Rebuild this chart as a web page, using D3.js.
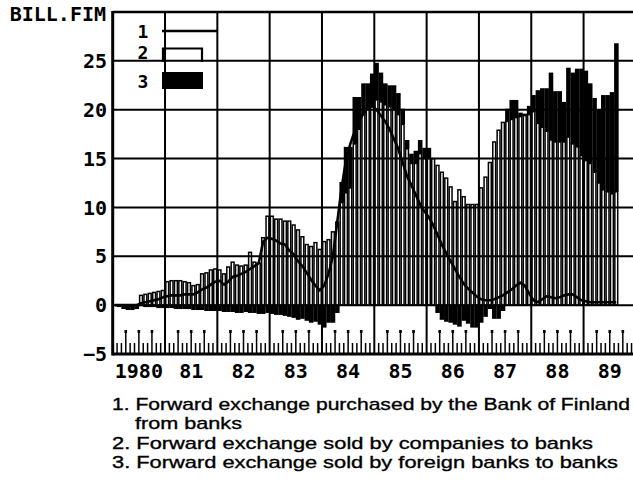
<!DOCTYPE html>
<html><head><meta charset="utf-8">
<script src="https://cdn.jsdelivr.net/npm/d3@7"></script>
<style>body{margin:0;background:#fff}svg{display:block}</style>
</head><body><svg id="c" width="633" height="499"></svg>
<script>
// Monthly data, Jan 1980 .. Aug 1989 (bill. FIM)
const yearLabels = ["1980","81","82","83","84","85","86","87","88","89"];
const yTicks = [-5,0,5,10,15,20,25];
// 1. Forward exchange purchased by the Bank of Finland from banks (line)
const bankOfFinland = [
 0,0,0,0,0,0, 0.2,0.3,0.4,0.5,0.6,0.8,
 0.9,1.0,1.0,1.0,1.1,1.1, 1.1,1.3,1.6,1.8,2.1,2.4,
 2.5,2.1,2.4,2.9,3.0,3.2, 3.4,3.7,4.0,4.3,6.5,6.9,
 6.8,6.6,6.3,6.2,5.6,5.2, 4.5,4.0,3.3,2.6,2.0,1.5,
 2.0,3.2,5.0,8.5,12.0,14.8, 16.5,17.8,18.9,19.6,20.2,20.4,
 20.0,19.4,18.8,18.0,17.0,16.0, 14.6,13.2,12.3,11.3,10.3,9.6,
 9.0,8.2,7.2,6.2,5.3,4.5, 3.7,2.9,2.2,1.7,1.3,0.9,
 0.6,0.5,0.5,0.6,0.8,1.0, 1.3,1.6,2.0,2.3,2.0,1.2,
 0.5,0.3,0.6,0.9,0.8,0.7, 0.8,1.0,1.1,1.1,0.8,0.5,
 0.4,0.3,0.3,0.3,0.3,0.3, 0.3,0.3
];
// 2. Forward exchange sold by companies to banks (open bars)
const companies = [
 0,0,0,0,0,0, 1.0,1.1,1.2,1.3,1.4,1.5,
 2.4,2.5,2.5,2.5,2.4,2.3, 2.0,2.1,3.2,3.3,3.6,3.7,
 3.6,3.2,3.9,4.4,4.1,4.0, 4.1,5.4,4.4,4.3,6.9,9.1,
 9.1,8.8,8.8,8.6,8.6,8.2, 7.7,7.0,6.2,6.0,6.4,5.7,
 6.5,6.7,7.5,8.5,10.5,11.5, 12.0,16.5,18.0,19.5,20.0,20.5,
 21.0,20.8,20.5,20.3,20.0,19.5, 18.5,16.0,14.5,14.5,15.5,15.0,
 15.0,15.0,14.3,13.6,13.0,12.1, 10.6,11.8,11.1,10.3,10.3,10.3,
 12.0,13.1,14.6,16.7,17.9,18.7, 18.8,19.0,19.2,19.3,19.4,19.5,
 19.8,18.6,18.2,17.8,16.9,16.7, 16.7,16.7,17.2,16.5,16.2,15.3,
 14.8,14.5,13.6,12.5,11.8,11.6, 11.4,11.6
];
// 3. Forward exchange sold by foreign banks to banks (black bars)
const foreignBanks = [
 0,-0.2,-0.4,-0.5,-0.5,-0.4, -0.1,-0.2,-0.2,-0.2,-0.3,-0.3,
 -0.3,-0.3,-0.4,-0.4,-0.4,-0.4, -0.5,-0.5,-0.5,-0.6,-0.6,-0.6,
 -0.6,-0.7,-0.7,-0.7,-0.8,-0.8, -0.7,-0.8,-0.8,-0.9,-0.9,-0.8,
 -0.9,-1.0,-1.0,-1.1,-1.2,-1.3, -1.5,-1.4,-1.6,-1.8,-1.7,-2.0,
 -2.3,-1.8,-1.8,-0.8,2.1,4.7, 4.2,4.8,3.3,3.2,2.7,3.2,
 3.8,3.0,2.2,2.2,2.5,2.2, 1.6,0.9,1.0,1.3,1.4,1.1,
 1.1,0,-0.8,-1.5,-1.7,-1.8, -2.0,-2.2,-1.6,-1.9,-2.3,-2.3,
 -1.8,-1.2,-0.4,-1.4,-1.4,-0.6, 1.3,2.0,1.8,0.4,0.2,0.9,
 1.7,3.4,4.0,4.4,6.9,5.2, 5.2,4.1,7.1,7.3,8.0,8.9,
 9.2,8.2,7.6,7.5,9.7,9.9, 10.4,15.2
];
const notes = [
 "1. Forward exchange purchased by the Bank of Finland",
 "from banks",
 "2. Forward exchange sold by companies to banks",
 "3. Forward exchange sold by foreign banks to banks"
];

const svg = d3.select("#c");
const x = d3.scaleLinear().domain([0,120]).range([112.7,635.9]);
const y = d3.scaleLinear().domain([-5,30]).range([354,12]);
const mw = x(1)-x(0);
const mono = "'DejaVu Sans Mono', monospace";

// grid
const g = svg.append("g");
g.selectAll("line.h").data(yTicks.filter(v=>v>-5)).join("line")
 .attr("x1",x(0)).attr("x2",633).attr("y1",d=>y(d)).attr("y2",d=>y(d))
 .attr("stroke","#000").attr("stroke-width",2);
g.selectAll("line.v").data(d3.range(1,10)).join("line")
 .attr("x1",d=>x(d*12)).attr("x2",d=>x(d*12)).attr("y1",y(30)).attr("y2",y(-5))
 .attr("stroke","#000").attr("stroke-width",2);

// month ticks
const ticks = d3.range(1,120).filter(k=>k%12!==0);
g.selectAll("line.t").data(ticks).join("line")
 .attr("x1",d=>x(d)).attr("x2",d=>x(d))
 .attr("y1",y(-5)).attr("y2",d=> d%3===0 ? y(-5)-23 : y(-5)-11)
 .attr("stroke","#000").attr("stroke-width",1.5);
g.selectAll("rect.th").data(ticks.filter(k=>k%3===0)).join("rect")
 .attr("x",d=>x(d)-1.3).attr("y",y(-5)-24).attr("width",2.6).attr("height",3).attr("fill","#000");

// open bars (series 2)
const months = companies.map((v,i)=>i);
svg.append("g").selectAll("rect").data(months.filter(i=>companies[i]>0)).join("rect")
 .attr("x",i=>x(i)+0.75).attr("width",mw-1.5)
 .attr("y",i=>y(companies[i])).attr("height",i=>y(0)-y(companies[i]))
 .attr("fill","none").attr("stroke","#000").attr("stroke-width",1.5);

// black bars (series 3)
svg.append("g").selectAll("rect").data(months.filter(i=>foreignBanks[i]!==0)).join("rect")
 .attr("x",i=>x(i)).attr("width",mw+0.2)
 .attr("y",i=> foreignBanks[i]>0 ? y(companies[i]+foreignBanks[i]) : y(0))
 .attr("height",i=> Math.abs(y(0)-y(foreignBanks[i])))
 .attr("fill","#000");

// line (series 1)
svg.append("path").datum(months)
 .attr("d",d3.line().x(i=>x(i+0.5)).y(i=>y(bankOfFinland[i])))
 .attr("fill","none").attr("stroke","#000").attr("stroke-width",2.6).attr("stroke-linejoin","round");

// frame
svg.append("line").attr("x1",x(0)).attr("x2",633).attr("y1",y(30)).attr("y2",y(30)).attr("stroke","#000").attr("stroke-width",2.5);
svg.append("line").attr("x1",x(0)).attr("x2",633).attr("y1",y(-5)).attr("y2",y(-5)).attr("stroke","#000").attr("stroke-width",3);
svg.append("line").attr("x1",x(0)).attr("x2",x(0)).attr("y1",y(30)-1).attr("y2",y(-5)+1.5).attr("stroke","#000").attr("stroke-width",3);

// y labels
svg.append("g").selectAll("text").data(yTicks).join("text")
 .attr("x",107).attr("y",d=>y(d)).attr("dy","0.36em").attr("text-anchor","end")
 .attr("font-family",mono).attr("font-weight","bold").attr("font-size",20)
 .text(d=> d<0 ? "\u2212"+Math.abs(d) : d);
svg.append("text").attr("x",106).attr("y",y(30)).attr("dy","0.45em").attr("text-anchor","end")
 .attr("font-family",mono).attr("font-weight","bold").attr("font-size",20).text("BILL.FIM");

// x labels
svg.append("g").selectAll("text").data(yearLabels).join("text")
 .attr("x",(d,i)=>x(i*12+6)).attr("y",378).attr("text-anchor","middle")
 .attr("font-family",mono).attr("font-weight","bold").attr("font-size",20)
 .text(d=>d);

// legend
const lg = svg.append("g").attr("font-family",mono).attr("font-weight","bold").attr("font-size",18);
lg.append("text").attr("x",143).attr("y",32).attr("dy","0.36em").attr("text-anchor","middle").text("1");
lg.append("text").attr("x",143).attr("y",53).attr("dy","0.36em").attr("text-anchor","middle").text("2");
lg.append("text").attr("x",143).attr("y",82).attr("dy","0.36em").attr("text-anchor","middle").text("3");
lg.append("line").attr("x1",162).attr("x2",218).attr("y1",31).attr("y2",31).attr("stroke","#000").attr("stroke-width",2.5);
lg.append("path").attr("d","M163,62V48.5H202V62").attr("fill","none").attr("stroke","#000").attr("stroke-width",2.2);
lg.append("rect").attr("x",162).attr("y",72).attr("width",41).attr("height",17).attr("fill","#000");

// notes
const nx = [112,135,112,112], ny = [410,429,449,468], nl = [518,107,481,506];
svg.append("g").selectAll("text").data(notes).join("text")
 .attr("x",(d,i)=>nx[i]).attr("y",(d,i)=>ny[i])
 .attr("textLength",(d,i)=>nl[i]).attr("lengthAdjust","spacingAndGlyphs")
 .attr("font-family","'Liberation Sans', Arial, sans-serif").attr("font-size",17)
 .attr("fill","#000").attr("stroke","#000").attr("stroke-width",0.35)
 .text(d=>d);
</script></body></html>
